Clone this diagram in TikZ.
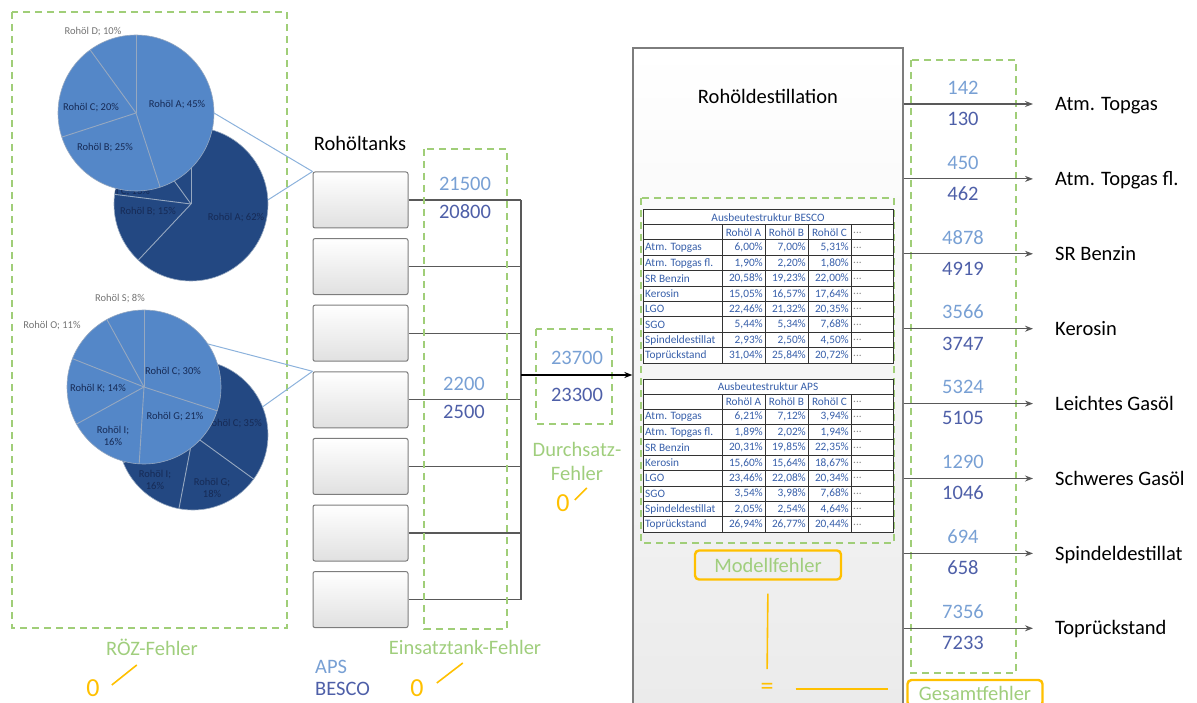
\documentclass[tikz,border=0pt]{standalone}
\usepackage{fontspec}
\setmainfont{Carlito}
\usetikzlibrary{calc,arrows.meta}

\definecolor{dashgreen}{RGB}{160,206,120}
\definecolor{txtgreen}{RGB}{160,206,125}
\definecolor{errorange}{RGB}{255,192,0}
\definecolor{apsblue}{RGB}{120,160,212}
\definecolor{bescoblue}{RGB}{78,95,168}
\definecolor{pielight}{RGB}{84,135,200}
\definecolor{piedark}{RGB}{35,72,130}
\definecolor{pieline}{RGB}{150,168,192}
\definecolor{pietxt}{RGB}{22,42,85}
\definecolor{linkblue}{RGB}{140,178,220}
\definecolor{tabblue}{RGB}{55,95,170}
\definecolor{boxgrey}{RGB}{125,125,125}

\tikzset{
  errbox/.style={draw=dashgreen, line width=1.3pt, dash pattern=on 7pt off 5pt},
  errtext/.style={text=txtgreen, font=\fontsize{20.5}{24}\selectfont, inner sep=0pt, align=center},
  errzero/.style={text=errorange, font=\fontsize{26}{30}\selectfont, inner sep=0pt},
  errline/.style={draw=errorange, line width=1.6pt},
  errframe/.style={draw=errorange, line width=2.4pt, rounded corners=4pt, text=txtgreen,
    font=\fontsize{20.5}{24}\selectfont, inner sep=0pt},
  tank/.style={draw=boxgrey, line width=1pt, rounded corners=2pt, top color=white,
    bottom color=black!12, minimum width=95pt, minimum height=56pt},
  pipe/.style={draw=black!65, line width=1.2pt},
  flow/.style={pipe, -{Stealth[length=8pt,width=6pt]}},
  bigtext/.style={font=\fontsize{20.5}{24}\selectfont, inner sep=0pt},
  outlabel/.style={bigtext, anchor=west, text height=13.2pt, text depth=0pt},
  apsnum/.style={bigtext, text=apsblue, text height=12.6pt, text depth=0pt},
  besconum/.style={bigtext, text=bescoblue, text height=12.6pt, text depth=0pt},
  pietext/.style={font=\fontsize{10.5}{12}\selectfont, inner sep=0pt, align=center, text=pietxt},
  pieout/.style={pietext, text=black!55},
  pielink/.style={draw=linkblue, line width=1pt},
  tabtext/.style={font=\fontsize{11.3}{13}\selectfont, text=tabblue, inner sep=0pt},
  tabline/.style={draw=black!80, line width=1pt},
}

% centre, radius, colour, slice borders
\newcommand\piedisc[4]{%
  \fill[#3] (#1) circle (#2);
  \foreach \ang in {#4} \draw[pieline, line width=0.9pt] (#1) -- ++(\ang:#2);
  \draw[pieline, line width=0.6pt] (#1) circle (#2);
}

% name, top, title, rows
\newcommand\yieldtable[4]{%
  \fill[white] (643,#2) rectangle (893,{#2+153.2});
  \node[tabtext] (#1-title) at (768,{#2+7.5}) {#3};
  \foreach \hd [count=\c] in {Rohöl A,Rohöl B,Rohöl C}
    \node[tabtext] (#1-head\c) at ({700.5+43*\c},{#2+22.5}) {\hd};
  \node[tabtext, text=black!45, anchor=west] (#1-head4) at (853,{#2+22.5}) {...};
  \foreach \lab/\va/\vb/\vc [count=\r] in {#4} {
    \node[tabtext, anchor=west] (#1-\r-0) at (645,{#2+22.3+15.4*\r}) {\lab};
    \node[tabtext, anchor=east] (#1-\r-1) at (763,{#2+22.3+15.4*\r}) {\va\%};
    \node[tabtext, anchor=east] (#1-\r-2) at (806,{#2+22.3+15.4*\r}) {\vb\%};
    \node[tabtext, anchor=east] (#1-\r-3) at (849,{#2+22.3+15.4*\r}) {\vc\%};
    \node[tabtext, text=black!45, anchor=west] (#1-\r-4) at (853,{#2+22.3+15.4*\r}) {...};
  }
  \draw[tabline] (643,#2) rectangle (893,{#2+153.2});
  \draw[tabline] (643,{#2+15}) -- (893,{#2+15});
  \foreach \r in {0,...,7}
    \draw[tabline] (643,{#2+30+15.4*\r}) -- (893,{#2+30+15.4*\r});
  \foreach \xx in {722,765,808,851}
    \draw[tabline] (\xx,{#2+15}) -- (\xx,{#2+153.2});
}

\begin{document}
\begin{tikzpicture}[x=1pt,y=-1pt]
  \useasboundingbox (0,0) rectangle (1197,703);

  %%%%% CRUDE OIL MIX %%%%%

  \coordinate (pieAd) at (191,204);
  \coordinate (pieAl) at (136,113);
  \coordinate (pieBd) at (193,435);
  \coordinate (pieBl) at (144,387);

  \piedisc{pieAd}{77pt}{piedark}{90,-133.2,172.8,126}
  \begin{scope}
    \clip (pieAd) circle (77pt);
    \node[pietext] (labAd3) at (122,192) {Rohöl C; 13\%};
  \end{scope}
  \node[pietext] (labAd1) at (236,218) {Rohöl A; 62\%};
  \node[pietext] (labAd2) at (148,212) {Rohöl B; 15\%};

  \piedisc{pieAl}{78pt}{pielight}{90,-72,198,126}
  \node[pietext] (labAl1) at (177,105) {Rohöl A; 45\%};
  \node[pietext] (labAl2) at (91,108) {Rohöl C; 20\%};
  \node[pietext] (labAl3) at (105,148) {Rohöl B; 25\%};
  \node[pieout] (labAl4) at (93,32) {Rohöl D; 10\%};

  \piedisc{pieBd}{75pt}{piedark}{90,-36,-100.8,-158.4,151.2,115.2}
  \node[pietext] (labBd1) at (234,424) {Rohöl C; 35\%};
  \node[pietext] (labBd2) at (212,488) {Rohöl G;\\18\%};
  \node[pietext] (labBd3) at (155,480) {Rohöl I;\\16\%};

  \piedisc{pieBl}{77pt}{pielight}{90,-18,-93.6,-151.2,158.4,118.8}
  \node[pietext] (labBl1) at (173,372) {Rohöl C; 30\%};
  \node[pietext] (labBl2) at (98,389) {Rohöl K; 14\%};
  \node[pietext] (labBl3) at (175,417) {Rohöl G; 21\%};
  \node[pietext] (labBl4) at (113,436) {Rohöl I;\\16\%};
  \node[pieout] (labBl5) at (120,299) {Rohöl S; 8\%};
  \node[pieout] (labBl6) at (52,326) {Rohöl O; 11\%};

  \draw[errbox] (12,12) rectangle (287,628);
  \node[errtext] (roez) at (152,647) {RÖZ-Fehler};
  \node[errzero] (roezzero) at (93,688) {0};
  \draw[errline] ([shift={(12pt,3pt)}]roezzero.east) -- ++(25pt,20pt);

  %%%%% TANKS %%%%%

  \node[bigtext] (tanktitle) at (360,143) {Rohöltanks};
  \foreach \i in {1,...,7}
    \node[tank] (tank\i) at (360.5,{200+66.6*(\i-1)}) {};

  \draw[pielink] ($(pieAl)+(0:78pt)$) -- (tank1.north west);
  \draw[pielink] ($(pieAd)+(3:77pt)$) -- (tank1.north west);
  \draw[pielink] ($(pieBl)+(34:77pt)$) -- (tank4.north west);
  \draw[pielink] ($(pieBd)+(22:75pt)$) -- (tank4.north west);

  \coordinate (busx) at (521,0);
  \foreach \i in {1,...,7}
    \draw[pipe] (tank\i.east) -- (tank\i.east -| busx);
  \draw[pipe] (tank1.east -| busx) -- (tank7.east -| busx);

  \draw[errbox] (424,149) rectangle (507,629);
  \node[apsnum] (tankaps1) at (465,184) {21500};
  \node[besconum] (tankbesco1) at (465,212) {20800};
  \node[apsnum] (tankaps4) at (464,384) {2200};
  \node[besconum] (tankbesco4) at (464,412) {2500};
  \node[errtext] (einsatz) at (465,647) {Einsatztank-Fehler};
  \node[errzero] (einsatzzero) at (417,688) {0};
  \draw[errline] ([shift={(13pt,5pt)}]einsatzzero.east) -- ++(26pt,20pt);

  \node[bigtext, text=apsblue, anchor=west] (legaps) at (315,667) {APS};
  \node[bigtext, text=bescoblue, anchor=west] (legbesco) at (315,689) {BESCO};

  %%%%% THROUGHPUT %%%%%

  \draw[errbox] (536,329) rectangle (612,424);
  \node[apsnum] (feedaps) at (577,358) {23700};
  \node[besconum] (feedbesco) at (577,395) {23300};
  \node[errtext] (durchsatz) at (577,461) {Durchsatz-\\Fehler};
  \node[errzero] (durchsatzzero) at (563,503) {0};
  \draw[errline] ([shift={(5pt,3pt)}]durchsatzzero.east) -- ++(12pt,12pt);

  %%%%% DISTILLATION %%%%%

  \node[draw=boxgrey, line width=1.3pt, top color=white, bottom color=black!8,
    minimum width=270pt, minimum height=670pt, inner sep=0pt] (dest) at (768,383) {};
  \node[bigtext] (desttitle) at (768,96) {Rohöldestillation};

  \coordinate (feed) at (521,375);
  \draw[flow, draw=black, line width=1.4pt] (feed) -- (feed -| dest.west);

  \draw[errbox] (641,198) rectangle (894,543);
  \yieldtable{besco}{210}{Ausbeutestruktur BESCO}{%
    Atm. Topgas/6{,}00/7{,}00/5{,}31,
    Atm. Topgas fl./1{,}90/2{,}20/1{,}80,
    SR Benzin/20{,}58/19{,}23/22{,}00,
    Kerosin/15{,}05/16{,}57/17{,}64,
    LGO/22{,}46/21{,}32/20{,}35,
    SGO/5{,}44/5{,}34/7{,}68,
    Spindeldestillat/2{,}93/2{,}50/4{,}50,
    Toprückstand/31{,}04/25{,}84/20{,}72}
  \yieldtable{aps}{379}{Ausbeutestruktur APS}{%
    Atm. Topgas/6{,}21/7{,}12/3{,}94,
    Atm. Topgas fl./1{,}89/2{,}02/1{,}94,
    SR Benzin/20{,}31/19{,}85/22{,}35,
    Kerosin/15{,}60/15{,}64/18{,}67,
    LGO/23{,}46/22{,}08/20{,}34,
    SGO/3{,}54/3{,}98/7{,}68,
    Spindeldestillat/2{,}05/2{,}54/4{,}64,
    Toprückstand/26{,}94/26{,}77/20{,}44}

  %%%%% PRODUCTS %%%%%

  \draw[errbox] (911,60) rectangle (1016,673);
  \foreach \prodname/\aps/\besco [count=\k] in {Atm. Topgas/142/130,
      Atm. Topgas fl./450/462, SR Benzin/4878/4919, Kerosin/3566/3747,
      Leichtes Gasöl/5324/5105, Schweres Gasöl/1290/1046,
      Spindeldestillat/694/658, Toprückstand/7356/7233} {
    \node[outlabel] (out\k) at (1055,{104+74.9*(\k-1)}) {\prodname};
    \node[apsnum] (outaps\k) at (963,{88+74.9*(\k-1)}) {\aps};
    \node[besconum] (outbesco\k) at (963,{119+74.9*(\k-1)}) {\besco};
    \draw[flow] (dest.east |- out\k.west) -- ([xshift=-22pt]out\k.west);
  }

  %%%%% TOTAL %%%%%

  \node[errframe, minimum width=146pt, minimum height=29pt] (modell) at (768,565) {Modellfehler};
  \node[text=errorange, font=\fontsize{26}{30}\selectfont, inner sep=0pt] (eqsign) at (767,689) {=};
  \node[errframe, minimum width=135pt, minimum height=26pt] (gesamt) at (975,693) {Gesamtfehler};
  \draw[errline, shorten <=13pt, shorten >=14pt] (modell.south) -- (eqsign.north);
  \draw[errline, shorten <=22pt, shorten >=18pt] (eqsign.east) -- (eqsign.east -| gesamt.west);

\end{tikzpicture}
\end{document}
